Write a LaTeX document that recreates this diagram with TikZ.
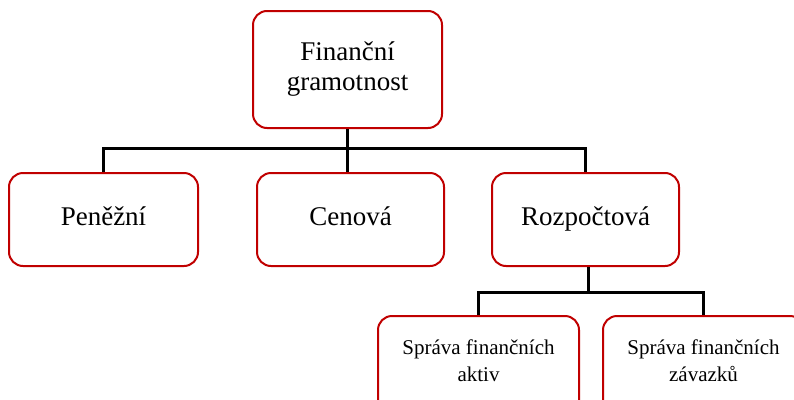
\documentclass[tikz,border=0pt]{standalone}
\usepackage{fontspec}
\setmainfont{Liberation Serif}
\definecolor{boxred}{HTML}{C00000}
\begin{document}
\begin{tikzpicture}[x=1pt,y=-1pt,
  box/.style={draw=boxred, line width=2pt, rounded corners=14pt, fill=white,
    align=center, inner sep=0pt},
  big/.style={box, font=\fontsize{27}{30}\selectfont},
  label/.style={align=center, inner sep=0pt, font=\fontsize{21}{27}\selectfont},
  conn/.style={draw=black, line width=3pt}]
\path[use as bounding box] (0,0) rectangle (794,399);
\clip (0,0) rectangle (794,399);
\node[big, minimum width=189pt, minimum height=117pt] (fg) at (347.5,69.5) {Finanční\\gramotnost};
\node[big, minimum width=189pt, minimum height=93pt] (pen) at (103.5,219.5) {\strut Peněžní};
\node[big, minimum width=187pt, minimum height=93pt] (cen) at (350.5,219.5) {\strut Cenová};
\node[big, minimum width=187pt, minimum height=93pt] (roz) at (585.5,219.5) {\strut Rozpočtová};
\node[box, minimum width=201pt, minimum height=100pt, anchor=north] (akt) at (478.5,315) {};
\node[box, minimum width=201pt, minimum height=100pt, anchor=north] (zav) at (703.5,315) {};
\node[label] (aktt) at (478.5,361) {Správa finančních\\aktiv};
\node[label] (zavt) at (703.5,361) {Správa finančních\\závazků};
\coordinate (h1) at (347,148);
\coordinate (h2) at (588,292);
\draw[conn] (fg.south -| h1) -- (h1);
\draw[conn] (pen.north) |- (h1) -| (roz.north);
\draw[conn] (h1) -- (cen.north -| h1);
\draw[conn] (roz.south -| h2) -- (h2);
\draw[conn] (akt.north) |- (h2) -| (zav.north);
\end{tikzpicture}
\end{document}
